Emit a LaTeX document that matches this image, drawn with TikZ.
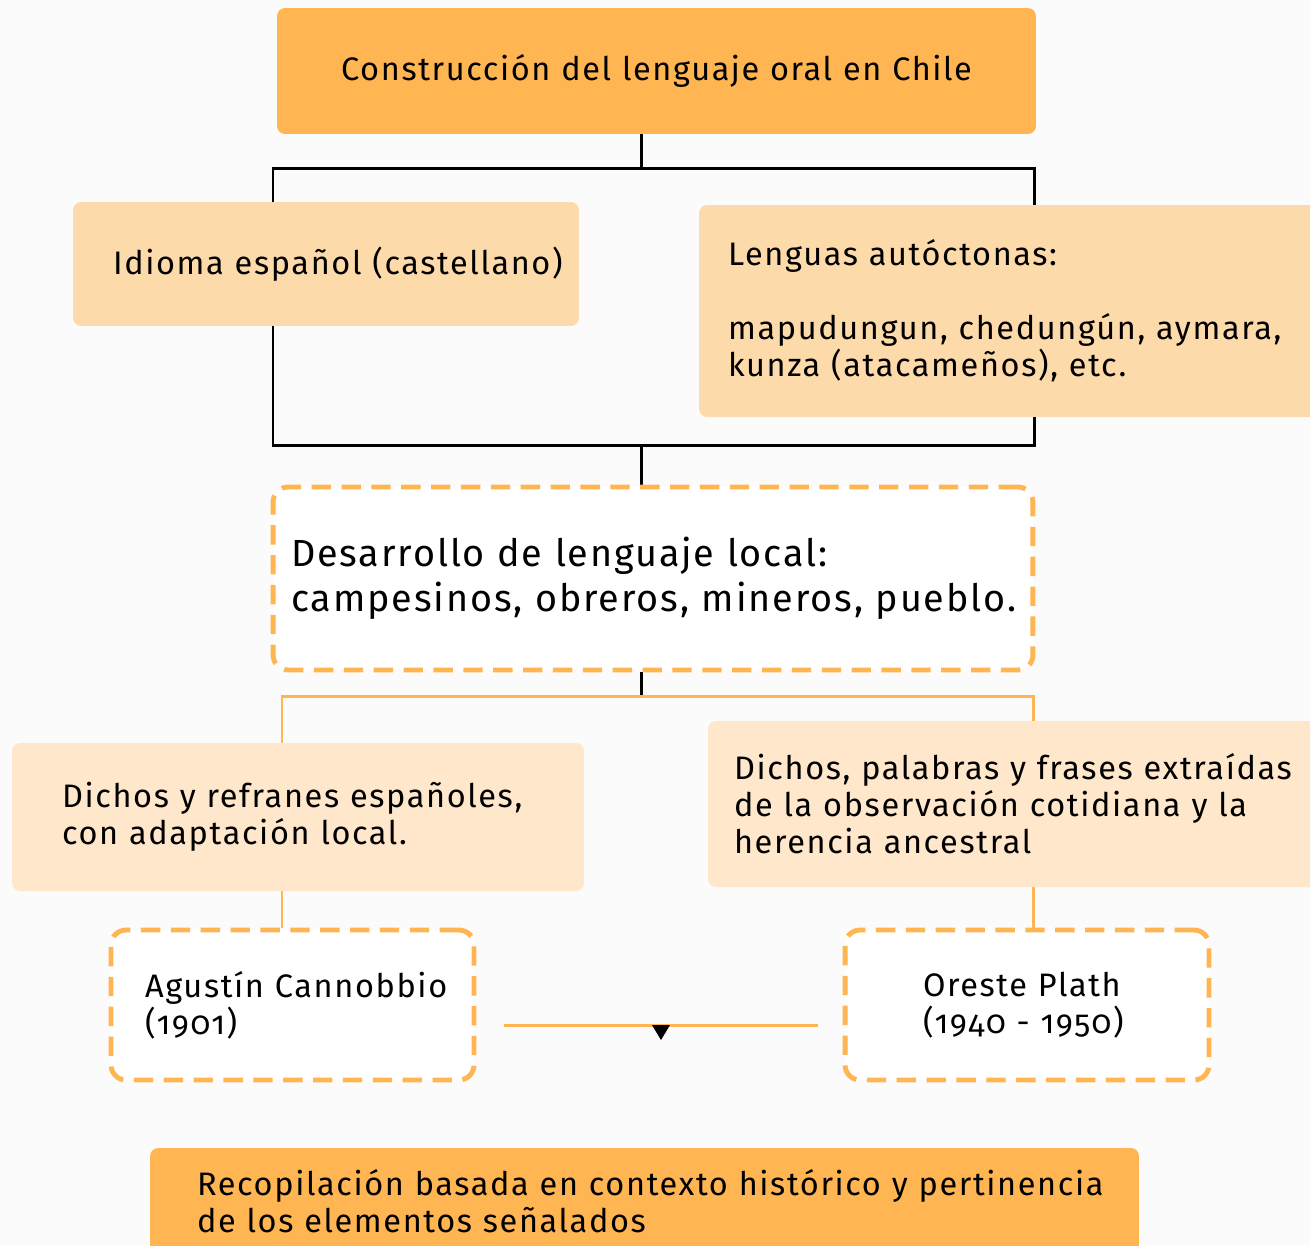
\documentclass[tikz,border=0pt]{standalone}
\usepackage{fontspec}
\setmainfont{Fira Sans}[LetterSpace=5,Numbers=OldStyle]
\usetikzlibrary{shapes, backgrounds, calc}

\definecolor{naranjo}{HTML}{FFB552}
\definecolor{crema}{HTML}{FDDAA9}
\definecolor{cremaclaro}{HTML}{FEE7CA}
\definecolor{fondo}{HTML}{FBFBFB}

\tikzset{
	caja/.style={rectangle, rounded corners=0.16cm, inner xsep=0pt, inner ysep=0pt,
		align=left, font=\fontsize{18.5}{21}\selectfont},
	sangria/.style={execute at begin node={\leftskip=#1\relax}},
	punteada/.style={caja, draw=naranjo, fill=white, line width=2.8pt,
		dash pattern=on 11pt off 6pt, rounded corners=0.3cm},
	linea/.style={line width=1.7pt},
	lineanaranja/.style={linea, draw=naranjo},
}

\begin{document}
\begin{tikzpicture}[x=0.02cm, y=-0.02cm]
	\useasboundingbox (0,0) rectangle (1310,1245);
	\node[caja, fill=naranjo, align=center,
	text width=15.18cm, minimum height=2.52cm
	] (titulo) at (656.5,71) {Construcción del lenguaje oral en Chile};
	\node[caja, fill=crema, sangria=0.8cm,
	text width=10.12cm, minimum height=2.48cm
	] (idioma) at (326,264) {Idioma español (castellano)};
	\node[caja, fill=crema, sangria=0.58cm,
	text width=14.02cm, minimum height=4.24cm
	] (lenguas) at (1049.5,311) {Lenguas autóctonas:\\[21pt]
		mapudungun, chedungún, aymara,\\ kunza (atacameños), etc.};
	\node[punteada, sangria=0.36cm, font=\fontsize{21.5}{25.5}\selectfont,
	text width=15.2cm, minimum height=3.66cm
	] (desarrollo) at (653,578.5) {Desarrollo de lenguaje local:\\
		campesinos, obreros, mineros, pueblo.};
	\node[caja, fill=cremaclaro, sangria=1cm,
	text width=11.44cm, minimum height=2.96cm
	] (refranes) at (298,817) {Dichos y refranes españoles,\\ con adaptación local.};
	\node[caja, fill=cremaclaro, sangria=0.52cm,
	text width=13.84cm, minimum height=3.32cm
	] (frases) at (1054,804) {Dichos, palabras y frases extraídas\\
		de la observación cotidiana y la\\ herencia ancestral};
	\node[punteada, sangria=0.68cm,
	text width=7.26cm, minimum height=3cm
	] (cannobbio) at (292.5,1005) {Agustín Cannobbio\\ (1901)};
	\node[punteada, sangria=1.56cm,
	text width=7.28cm, minimum height=3cm
	] (plath) at (1027,1005) {Oreste Plath\\ (1940 - 1950)};
	\node[caja, fill=naranjo, sangria=0.94cm,
	text width=19.78cm, minimum height=2.14cm
	] (recopilacion) at (644.5,1201.5) {Recopilación basada en contexto histórico y pertinencia\\
		de los elementos señalados};

	\coordinate (jA) at (641,168);
	\coordinate (jB) at (641,445);
	\coordinate (jC) at (641,696);
	\coordinate (izq) at (273,168);
	\coordinate (der) at (1034,445);
	\coordinate (lx) at (282,0);
	\coordinate (rx) at (1033,0);
	\begin{scope}[on background layer]
		\fill[fondo] (0,0) rectangle (1310,1245);
		\draw[linea] (titulo.south -| jA) -- (jA);
		\draw[linea] (izq) rectangle (der);
		\draw[linea] (jB) -- (desarrollo.north -| jB);
		\draw[linea] (desarrollo.south -| jC) -- (jC);
		\draw[lineanaranja] (refranes.north -| lx) |- (jC) -| (frases.north -| rx);
		\draw[lineanaranja] (refranes.south -| lx) -- (cannobbio.north -| lx);
		\draw[lineanaranja] (frases.south -| rx) -- (plath.north -| rx);
	\end{scope}
	\draw[lineanaranja] ([xshift=0.56cm, yshift=-0.4cm]cannobbio.east) -- coordinate (medio)
	([xshift=-0.5cm, yshift=-0.4cm]plath.west);
	\fill (medio) ++(-9,0) -- ++(18,0) -- ++(-9,15) -- cycle;
\end{tikzpicture}
\end{document}
